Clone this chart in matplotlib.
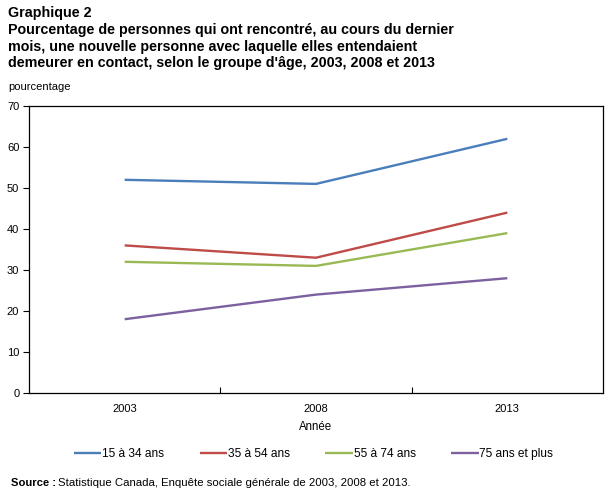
import matplotlib
matplotlib.use("Agg")
import matplotlib.pyplot as plt
from matplotlib.ticker import FixedLocator

plt.rcParams['font.family'] = ['Liberation Sans', 'DejaVu Sans']

years = ["2003", "2008", "2013"]
series_names = ["15 à 34 ans", "35 à 54 ans", "55 à 74 ans", "75 ans et plus"]
v_15_34 = [52, 51, 62]
v_35_54 = [36, 33, 44]
v_55_74 = [32, 31, 39]
v_75plus = [18, 24, 28]
colors = ["#4A7EBB", "#BE4B48", "#98B954", "#7D60A0"]
yticks = [0, 10, 20, 30, 40, 50, 60, 70]
title_lines = ["Graphique 2",
               "Pourcentage de personnes qui ont rencontré, au cours du dernier",
               "mois, une nouvelle personne avec laquelle elles entendaient",
               "demeurer en contact, selon le groupe d'âge, 2003, 2008 et 2013"]

W, H = 607, 493
fig = plt.figure(figsize=(W/100, H/100), dpi=100)
ax = fig.add_axes([29/W, 1-393/H, (603-29)/W, (393-106)/H])

x = list(range(len(years)))
for vals, name, c in zip([v_15_34, v_35_54, v_55_74, v_75plus], series_names, colors):
    ax.plot(x, vals, color=c, lw=1.7, label=name, solid_capstyle='butt')

ax.set_xlim(-0.5, len(years) - 0.5)
ax.set_ylim(0, 70)
ax.set_yticks(yticks)
ax.set_yticklabels([str(t) for t in yticks], fontsize=8)
ax.set_xticks(x)
ax.set_xticklabels(years, fontsize=8)
ax.tick_params(axis='x', which='major', length=0, pad=8)
ax.xaxis.set_minor_locator(FixedLocator([0.5, 1.5]))
ax.tick_params(axis='x', which='minor', direction='in', length=4, width=0.8)
ax.tick_params(axis='y', which='major', direction='out', length=4, width=0.8, pad=3)
for s in ax.spines.values():
    s.set_linewidth(0.9)
ax.set_xlabel("Année", fontsize=8.3, labelpad=5)

ys = [13, 30, 46.5, 63]
for i, (line, yy) in enumerate(zip(title_lines, ys)):
    fig.text(8/W, 1-yy/H, line, fontsize=10.3, fontweight='bold', va='center', ha='left')
fig.text(8/W, 1-87/H, "pourcentage", fontsize=8, va='center', ha='left')

fig.legend(loc='center', bbox_to_anchor=(313.5/W, 1-454/H), ncol=4, frameon=False,
           fontsize=8.6, handlelength=2.3, handletextpad=0.05, columnspacing=3.0)

fig.text(11/W, 1-483/H, "Source :", fontsize=8.1, fontweight='bold', va='center', ha='left')
fig.text(58/W, 1-483/H, "Statistique Canada, Enquête sociale générale de 2003, 2008 et 2013.",
         fontsize=8.2, va='center', ha='left')

fig.savefig("out.png", dpi=100)
